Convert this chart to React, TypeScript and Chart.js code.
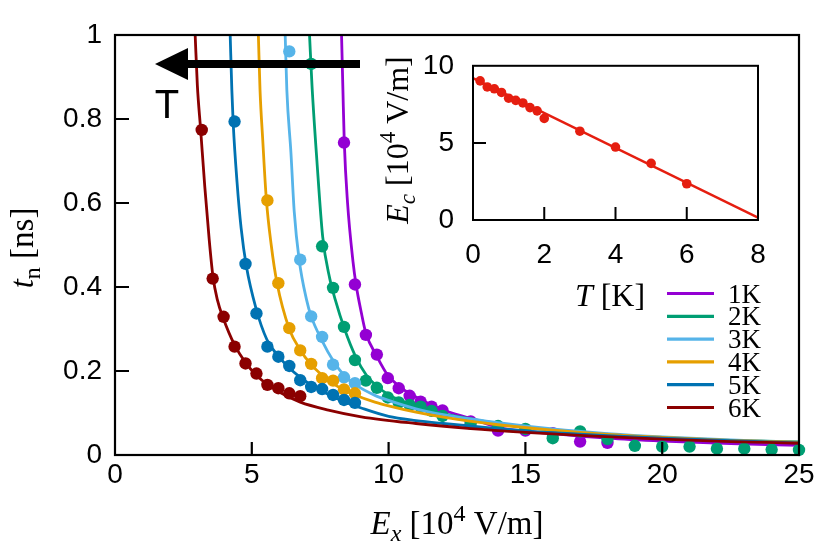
import React, { useEffect, useRef } from 'react';
import { Chart, registerables } from 'chart.js';
Chart.register(...registerables);

// ---------- main panel data ----------
const seriesNames = ['1K', '2K', '3K', '4K', '5K', '6K'];
const seriesColors = ['#9400D3', '#009E73', '#56B4E9', '#E69F00', '#0072B2', '#8B0000'];

// measured points (E_x in 1e4 V/m, t_n in ns)
const dotX1K = [8.37, 8.77, 9.17, 9.57, 9.97, 10.37, 10.77, 11.17, 11.57, 11.97, 13, 14, 15, 16, 17, 18];
const dotT1K = [0.744, 0.406, 0.286, 0.239, 0.183, 0.159, 0.141, 0.127, 0.115, 0.106, 0.080, 0.058, 0.058, 0.052, 0.032, 0.029];
const dotX2K = [7.17, 7.57, 7.97, 8.37, 8.77, 9.17, 9.57, 9.97, 10.37, 10.77, 11.17, 11.57, 11.97, 13, 14, 15, 16, 17, 18, 19, 20, 21, 22, 23, 24, 25];
const dotT2K = [0.931, 0.497, 0.398, 0.305, 0.226, 0.177, 0.160, 0.137, 0.125, 0.119, 0.115, 0.105, 0.093, 0.075, 0.069, 0.062, 0.040, 0.056, 0.038, 0.022, 0.020, 0.020, 0.015, 0.015, 0.013, 0.012];
const dotX3K = [6.37, 6.77, 7.17, 7.57, 7.97, 8.37, 8.77];
const dotT3K = [0.961, 0.465, 0.330, 0.281, 0.215, 0.185, 0.171];
const dotX4K = [5.57, 5.97, 6.37, 6.77, 7.17, 7.57, 7.97, 8.37, 8.77];
const dotT4K = [0.606, 0.409, 0.302, 0.249, 0.217, 0.183, 0.177, 0.156, 0.147];
const dotX5K = [4.37, 4.77, 5.17, 5.57, 5.97, 6.37, 6.77, 7.17, 7.57, 7.97, 8.37, 8.77];
const dotT5K = [0.794, 0.455, 0.337, 0.258, 0.234, 0.212, 0.178, 0.162, 0.157, 0.143, 0.131, 0.124];
const dotX6K = [3.17, 3.57, 3.97, 4.37, 4.77, 5.17, 5.57, 5.97, 6.37, 6.77];
const dotT6K = [0.774, 0.420, 0.329, 0.258, 0.218, 0.194, 0.167, 0.159, 0.147, 0.140];

// fitted curves
const fitX1K = [8.28, 8.33, 8.38, 8.5, 8.7, 8.81, 9.0, 9.17, 9.57, 9.97, 10.5, 11, 12, 13, 14, 16, 18, 20, 22.5, 25];
const fitT1K = [1.0, 0.87, 0.745, 0.6, 0.46, 0.406, 0.34, 0.29, 0.235, 0.19, 0.158, 0.138, 0.107, 0.087, 0.066, 0.051, 0.040, 0.033, 0.027, 0.023];
const fitX2K = [7.11, 7.2, 7.38, 7.59, 7.85, 8.05, 8.39, 8.79, 9.19, 9.55, 10.05, 10.75, 11.5, 12.5, 14, 16, 18, 20, 22.5, 25];
const fitT2K = [1.0, 0.88, 0.70, 0.52, 0.42, 0.37, 0.30, 0.235, 0.19, 0.165, 0.142, 0.122, 0.106, 0.092, 0.075, 0.059, 0.048, 0.041, 0.035, 0.031];
const fitX3K = [6.22, 6.28, 6.43, 6.55, 6.73, 7.0, 7.17, 7.57, 7.97, 8.37, 8.77, 9.5, 10, 11, 12, 14, 16, 18, 20, 22.5, 25];
const fitT3K = [1.0, 0.87, 0.72, 0.58, 0.465, 0.37, 0.33, 0.272, 0.225, 0.19, 0.168, 0.142, 0.13, 0.11, 0.096, 0.077, 0.062, 0.051, 0.043, 0.036, 0.030];
const fitX4K = [5.24, 5.3, 5.4, 5.53, 5.71, 5.92, 6.37, 6.77, 7.17, 7.57, 7.97, 8.37, 8.77, 9.5, 10, 11, 12, 14, 16, 18, 20, 22.5, 25];
const fitT4K = [1.0, 0.87, 0.75, 0.61, 0.50, 0.41, 0.30, 0.25, 0.215, 0.19, 0.17, 0.155, 0.143, 0.126, 0.117, 0.102, 0.09, 0.072, 0.059, 0.049, 0.042, 0.035, 0.030];
const fitX5K = [4.21, 4.27, 4.32, 4.46, 4.61, 4.8, 5.15, 5.55, 5.95, 6.37, 6.77, 7.17, 7.57, 8.37, 9, 10, 11, 12, 14, 16, 18, 20, 22.5, 25];
const fitT5K = [1.0, 0.87, 0.79, 0.65, 0.54, 0.45, 0.35, 0.275, 0.237, 0.207, 0.185, 0.167, 0.152, 0.127, 0.112, 0.092, 0.082, 0.075, 0.063, 0.053, 0.046, 0.040, 0.034, 0.029];
const fitX6K = [2.93, 3.01, 3.13, 3.28, 3.44, 3.58, 3.74, 3.96, 4.37, 4.77, 5.17, 5.57, 6.0, 6.77, 7.8, 9, 11, 13, 15, 17.5, 20, 22.5, 25];
const fitT6K = [1.0, 0.88, 0.775, 0.64, 0.515, 0.425, 0.37, 0.325, 0.262, 0.22, 0.19, 0.168, 0.15, 0.126, 0.107, 0.091, 0.075, 0.063, 0.054, 0.045, 0.038, 0.032, 0.028];

const dotXs = [dotX1K, dotX2K, dotX3K, dotX4K, dotX5K, dotX6K];
const dotTs = [dotT1K, dotT2K, dotT3K, dotT4K, dotT5K, dotT6K];
const fitXs = [fitX1K, fitX2K, fitX3K, fitX4K, fitX5K, fitX6K];
const fitTs = [fitT1K, fitT2K, fitT3K, fitT4K, fitT5K, fitT6K];

const xTickValues = [0, 5, 10, 15, 20, 25];
const xTickLabels = ['0', '5', '10', '15', '20', '25'];
const yTickValues = [0, 0.2, 0.4, 0.6, 0.8, 1];
const yTickLabels = ['0', '0.2', '0.4', '0.6', '0.8', '1'];

// ---------- inset data ----------
const insetColor = '#E51E10';
const insetT = [0.2, 0.4, 0.6, 0.8, 1.0, 1.2, 1.4, 1.6, 1.8, 2.0, 3, 4, 5, 6];
const insetEc = [9.02, 8.63, 8.51, 8.27, 7.90, 7.76, 7.59, 7.29, 7.08, 6.59, 5.76, 4.73, 3.67, 2.35];
const insetFitT = [0, 8];
const insetFitEc = [9.2, 0.15];
const insetXTickValues = [0, 2, 4, 6, 8];
const insetXTickLabels = ['0', '2', '4', '6', '8'];
const insetYTickValues = [0, 5, 10];
const insetYTickLabels = ['0', '5', '10'];

const SANS = '"Liberation Sans", Arial, sans-serif';
const SERIF = '"Liberation Serif", "Times New Roman", serif';

type Run = { t: string; it?: boolean; sc?: number; dy?: number };

function drawRich(ctx: CanvasRenderingContext2D, runs: Run[], size: number, cx: number, cy: number, angle: number) {
  ctx.save();
  ctx.translate(cx, cy);
  ctx.rotate(angle);
  const fontOf = (r: Run) => `${r.it ? 'italic ' : ''}${Math.round(size * (r.sc || 1))}px ${SERIF}`;
  let w = 0;
  for (const r of runs) {
    ctx.font = fontOf(r);
    w += ctx.measureText(r.t).width;
  }
  let x = -w / 2;
  ctx.textAlign = 'left';
  ctx.textBaseline = 'alphabetic';
  ctx.fillStyle = '#000';
  const base = size * 0.33;
  for (const r of runs) {
    ctx.font = fontOf(r);
    ctx.fillText(r.t, x, base + (r.dy || 0) * size);
    x += ctx.measureText(r.t).width;
  }
  ctx.restore();
}

const mainDecor = {
  id: 'mainDecor',
  afterDraw(chart: any) {
    const ctx: CanvasRenderingContext2D = chart.ctx;
    const a = chart.chartArea;
    const xs = chart.scales.x;
    const ys = chart.scales.y;
    ctx.save();
    ctx.strokeStyle = '#000';
    ctx.lineWidth = 2.2;
    ctx.strokeRect(a.left, a.top, a.right - a.left, a.bottom - a.top);
    ctx.beginPath();
    for (const v of xTickValues.slice(1, -1)) {
      const px = xs.getPixelForValue(v);
      ctx.moveTo(px, a.bottom);
      ctx.lineTo(px, a.bottom - 13);
    }
    for (const v of yTickValues.slice(1, -1)) {
      const py = ys.getPixelForValue(v);
      ctx.moveTo(a.left, py);
      ctx.lineTo(a.left + 14, py);
    }
    ctx.stroke();

    // legend
    const lx0 = 667, lx1 = 714, ly0 = 293.5, ldy = 22.8;
    ctx.font = `27px ${SERIF}`;
    ctx.textAlign = 'left';
    ctx.textBaseline = 'middle';
    seriesNames.forEach((n, i) => {
      const y = ly0 + i * ldy;
      ctx.strokeStyle = seriesColors[i];
      ctx.lineWidth = 3.2;
      ctx.beginPath();
      ctx.moveTo(lx0, y);
      ctx.lineTo(lx1, y);
      ctx.stroke();
      ctx.fillStyle = '#000';
      ctx.fillText(n, 728, y + 2);
    });

    // arrow (temperature direction)
    ctx.fillStyle = '#000';
    ctx.fillRect(186, 60, 174, 8);
    ctx.beginPath();
    ctx.moveTo(155, 64);
    ctx.lineTo(188, 48);
    ctx.lineTo(188, 80);
    ctx.closePath();
    ctx.fill();
    ctx.font = `40px ${SANS}`;
    ctx.textAlign = 'center';
    ctx.textBaseline = 'alphabetic';
    ctx.fillText('T', 167, 118);

    // axis titles
    drawRich(ctx, [
      { t: 'E', it: true },
      { t: 'x', it: true, sc: 0.72, dy: 0.22 },
      { t: ' [10' },
      { t: '4', sc: 0.72, dy: -0.38 },
      { t: ' V/m]' },
    ], 33, 457, 523, 0);
    drawRich(ctx, [
      { t: 't', it: true },
      { t: 'n', sc: 0.72, dy: 0.22 },
      { t: ' [ns]' },
    ], 33, 22, 248, -Math.PI / 2);
    ctx.restore();
  },
};

const insetDecor = {
  id: 'insetDecor',
  afterDraw(chart: any) {
    const ctx: CanvasRenderingContext2D = chart.ctx;
    const a = chart.chartArea;
    const xs = chart.scales.x;
    const ys = chart.scales.y;
    ctx.save();
    ctx.strokeStyle = '#000';
    ctx.lineWidth = 2;
    ctx.strokeRect(a.left, a.top, a.right - a.left, a.bottom - a.top);
    ctx.beginPath();
    for (const v of insetXTickValues.slice(1, -1)) {
      const px = xs.getPixelForValue(v);
      ctx.moveTo(px, a.bottom);
      ctx.lineTo(px, a.bottom - 13);
    }
    for (const v of insetYTickValues.slice(1, -1)) {
      const py = ys.getPixelForValue(v);
      ctx.moveTo(a.left, py);
      ctx.lineTo(a.left + 13, py);
    }
    ctx.stroke();
    drawRich(ctx, [
      { t: 'T', it: true },
      { t: ' [K]' },
    ], 32, 240, 265, 0);
    drawRich(ctx, [
      { t: 'E', it: true },
      { t: 'c', it: true, sc: 0.72, dy: 0.22 },
      { t: ' [10' },
      { t: '4', sc: 0.72, dy: -0.38 },
      { t: ' V/m]' },
    ], 32, 27, 110, -Math.PI / 2);
    ctx.restore();
  },
};

function tickFont(size: number) {
  return { family: SANS, size };
}

export default function App() {
  const mainRef = useRef<HTMLCanvasElement>(null);
  const insetRef = useRef<HTMLCanvasElement>(null);

  useEffect(() => {
    const datasets: any[] = [];
    seriesNames.forEach((name, i) => {
      datasets.push({
        label: name + ' fit',
        data: fitXs[i].map((x, j) => ({ x, y: fitTs[i][j] })),
        showLine: true,
        borderColor: seriesColors[i],
        borderWidth: 2.8,
        pointRadius: 0,
        cubicInterpolationMode: 'monotone',
        order: (6 - i) * 2,
      });
      datasets.push({
        label: name,
        data: dotXs[i].map((x, j) => ({ x, y: dotTs[i][j] })),
        showLine: false,
        pointRadius: 6.2,
        pointBorderWidth: 0,
        pointBackgroundColor: seriesColors[i],
        borderColor: seriesColors[i],
        clip: false,
        order: (6 - i) * 2 + 1,
      });
    });

    const main = new Chart(mainRef.current as HTMLCanvasElement, {
      type: 'scatter',
      data: { datasets },
      options: {
        animation: false,
        responsive: false,
        devicePixelRatio: 1,
        layout: { padding: { left: 0, right: 31, top: 35, bottom: 0 } },
        plugins: { legend: { display: false }, tooltip: { enabled: false } },
        scales: {
          x: {
            type: 'linear',
            min: 0,
            max: 25,
            border: { display: false },
            grid: { display: false, drawTicks: false },
            afterBuildTicks: (s: any) => { s.ticks = xTickValues.map((v) => ({ value: v })); },
            afterFit: (s: any) => { s.height = 94; },
            ticks: {
              font: tickFont(28),
              color: '#000',
              padding: 3,
              maxRotation: 0,
              callback: (v: any) => xTickLabels[xTickValues.indexOf(Number(v))] ?? '',
            },
          },
          y: {
            type: 'linear',
            min: 0,
            max: 1,
            border: { display: false },
            grid: { display: false, drawTicks: false },
            afterBuildTicks: (s: any) => { s.ticks = yTickValues.map((v) => ({ value: v })); },
            afterFit: (s: any) => { s.width = 115; },
            ticks: {
              font: tickFont(28),
              color: '#000',
              padding: 13,
              callback: (v: any) => yTickLabels[yTickValues.findIndex((t) => Math.abs(t - Number(v)) < 1e-9)] ?? '',
            },
          },
        },
      },
      plugins: [mainDecor],
    });

    const inset = new Chart(insetRef.current as HTMLCanvasElement, {
      type: 'scatter',
      data: {
        datasets: [
          {
            label: 'fit',
            data: insetFitT.map((x, j) => ({ x, y: insetFitEc[j] })),
            showLine: true,
            borderColor: insetColor,
            borderWidth: 2.4,
            pointRadius: 0,
            order: 2,
          },
          {
            label: 'Ec',
            data: insetT.map((x, j) => ({ x, y: insetEc[j] })),
            showLine: false,
            pointRadius: 4.8,
            pointBorderWidth: 0,
            pointBackgroundColor: insetColor,
            clip: false,
            order: 1,
          },
        ],
      },
      options: {
        animation: false,
        responsive: false,
        devicePixelRatio: 1,
        layout: { padding: { left: 0, right: 32, top: 27, bottom: 0 } },
        plugins: { legend: { display: false }, tooltip: { enabled: false } },
        scales: {
          x: {
            type: 'linear',
            min: 0,
            max: 8,
            border: { display: false },
            grid: { display: false, drawTicks: false },
            afterBuildTicks: (s: any) => { s.ticks = insetXTickValues.map((v) => ({ value: v })); },
            afterFit: (s: any) => { s.height = 100; },
            ticks: {
              font: tickFont(28),
              color: '#000',
              padding: 18,
              maxRotation: 0,
              callback: (v: any) => insetXTickLabels[insetXTickValues.indexOf(Number(v))] ?? '',
            },
          },
          y: {
            type: 'linear',
            min: 0,
            max: 10,
            border: { display: false },
            grid: { display: false, drawTicks: false },
            afterBuildTicks: (s: any) => { s.ticks = insetYTickValues.map((v) => ({ value: v })); },
            afterFit: (s: any) => { s.width = 103; },
            ticks: {
              font: tickFont(28),
              color: '#000',
              padding: 19,
              callback: (v: any) => insetYTickLabels[insetYTickValues.indexOf(Number(v))] ?? '',
            },
          },
        },
      },
      plugins: [insetDecor],
    });

    return () => {
      main.destroy();
      inset.destroy();
    };
  }, []);

  return (
    <div style={{ position: 'absolute', left: 0, top: 0, width: 830, height: 549, background: '#fff' }}>
      <canvas ref={mainRef} width={830} height={549} style={{ position: 'absolute', left: 0, top: 0 }} />
      <canvas ref={insetRef} width={420} height={290} style={{ position: 'absolute', left: 370, top: 30 }} />
    </div>
  );
}
